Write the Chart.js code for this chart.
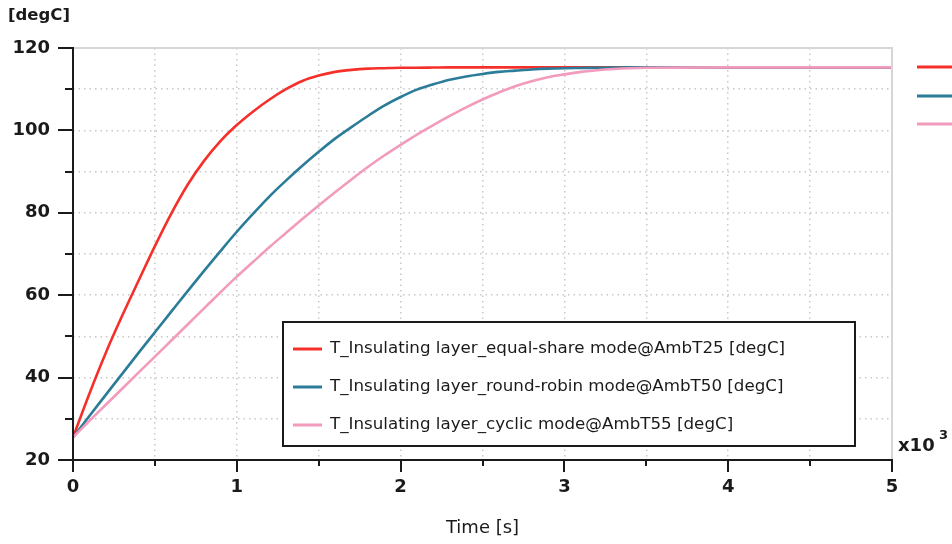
<!DOCTYPE html>
<html>
<head>
<meta charset="utf-8">
<script src="https://cdn.jsdelivr.net/npm/chart.js@4/dist/chart.umd.min.js"></script>
<style>
  html, body { margin: 0; padding: 0; background: #ffffff; }
  #wrap { position: relative; width: 952px; height: 544px; }
</style>
</head>
<body>
<div id="wrap"><canvas id="c" width="952" height="544"></canvas></div>
<script>
// ---- data (time in seconds, temperature in degC) ----
const timeS = [0,100,200,300,400,500,600,700,800,900,1000,1100,1200,1300,1400,1500,1600,1700,1800,1900,2000,2100,2200,2300,2400,2500,2600,2700,2800,2900,3000,3100,3200,3300,3400,3500,4000,4500,5000];
const equalShare = [25.5,36.1,46.0,55.0,63.5,71.9,79.8,86.8,92.6,97.4,101.3,104.6,107.5,110.0,112.0,113.3,114.2,114.7,115.0,115.1,115.2,115.2,115.25,115.3,115.3,115.3,115.3,115.3,115.3,115.3,115.3,115.3,115.3,115.3,115.3,115.3,115.3,115.3,115.3];
const roundRobin = [25.5,30.7,35.8,40.9,46.0,51.0,56.0,61.0,65.9,70.7,75.4,79.8,84.0,87.8,91.4,94.8,98.0,100.8,103.5,106.0,108.1,109.9,111.2,112.3,113.1,113.7,114.2,114.5,114.8,115.0,115.1,115.15,115.2,115.25,115.3,115.3,115.3,115.3,115.3];
const cyclic = [25.5,29.5,33.4,37.3,41.2,45.1,49.0,52.9,56.8,60.7,64.5,68.1,71.7,75.1,78.5,81.8,85.0,88.1,91.1,93.9,96.5,99.0,101.3,103.5,105.6,107.5,109.2,110.7,111.9,112.9,113.6,114.2,114.6,114.9,115.1,115.2,115.3,115.3,115.3];
const seriesLabels = [
  "T_Insulating layer_equal-share mode@AmbT25 [degC]",
  "T_Insulating layer_round-robin mode@AmbT50 [degC]",
  "T_Insulating layer_cyclic mode@AmbT55 [degC]"
];
const seriesColors = ["#f5302a", "#2b7c98", "#f29bbd"];
const yUnit = "[degC]";
const xTitle = "Time [s]";
const xMultiplier = "x10";
const xMultiplierExp = "3";

const toPts = (vals) => vals.map((v, i) => ({ x: timeS[i], y: v }));

const FONT = "'DejaVu Sans', sans-serif";

const decor = {
  id: 'decor',
  afterDraw(chart) {
    const ctx = chart.ctx;
    const a = chart.chartArea;
    const xs = chart.scales.x, ys = chart.scales.y;
    ctx.save();
    // top & right light border
    ctx.strokeStyle = '#d6d6d6';
    ctx.lineWidth = 2;
    ctx.beginPath();
    ctx.moveTo(a.left, a.top); ctx.lineTo(a.right, a.top); ctx.lineTo(a.right, a.bottom);
    ctx.stroke();
    // axes
    ctx.strokeStyle = '#1a1a1a';
    ctx.lineWidth = 2;
    ctx.beginPath();
    ctx.moveTo(a.left, a.top - 1); ctx.lineTo(a.left, a.bottom);
    ctx.lineTo(a.right + 1, a.bottom);
    ctx.stroke();
    // ticks
    ctx.beginPath();
    for (let v = 20; v <= 120; v += 10) {
      const y = Math.round(ys.getPixelForValue(v));
      const len = (v % 20 === 0) ? 15 : 8;
      ctx.moveTo(a.left - len, y); ctx.lineTo(a.left, y);
    }
    for (let v = 0; v <= 5000; v += 500) {
      const x = Math.round(xs.getPixelForValue(v));
      const len = (v % 1000 === 0) ? 12 : 6;
      ctx.moveTo(x, a.bottom); ctx.lineTo(x, a.bottom + len);
    }
    ctx.stroke();

    ctx.fillStyle = '#1a1a1a';
    ctx.textAlign = 'left';
    ctx.textBaseline = 'middle';
    // y unit
    ctx.font = "bold 16.5px " + FONT;
    ctx.fillText(yUnit, 8, 16);
    // x multiplier
    ctx.font = "bold 18px " + FONT;
    ctx.fillText(xMultiplier, 898, 446);
    ctx.font = "bold 13px " + FONT;
    ctx.fillText(xMultiplierExp, 939, 436);
    // x title
    ctx.font = "18px " + FONT;
    ctx.textAlign = 'center';
    ctx.fillText(xTitle, (a.left + a.right) / 2, 528);

    // inner legend box
    const bx = 283, by = 322, bw = 572, bh = 124;
    ctx.fillStyle = '#ffffff';
    ctx.fillRect(bx, by, bw, bh);
    ctx.strokeStyle = '#1a1a1a';
    ctx.lineWidth = 2;
    ctx.strokeRect(bx, by, bw, bh);
    ctx.font = "16.7px " + FONT;
    ctx.textAlign = 'left';
    ctx.textBaseline = 'middle';
    const rows = [349, 387, 425];
    for (let i = 0; i < 3; i++) {
      ctx.strokeStyle = seriesColors[i];
      ctx.lineWidth = 3;
      ctx.beginPath();
      ctx.moveTo(293, rows[i]); ctx.lineTo(322, rows[i]);
      ctx.stroke();
      ctx.fillStyle = '#1a1a1a';
      ctx.fillText(seriesLabels[i], 330, rows[i]);
    }
    // truncated outer legend swatches at right edge
    const rrows = [67, 96, 124];
    for (let i = 0; i < 3; i++) {
      ctx.strokeStyle = seriesColors[i];
      ctx.lineWidth = 3;
      ctx.beginPath();
      ctx.moveTo(917, rrows[i]); ctx.lineTo(952, rrows[i]);
      ctx.stroke();
    }
    ctx.restore();
  }
};

new Chart(document.getElementById('c'), {
  type: 'line',
  data: {
    datasets: [
      { label: seriesLabels[0], data: toPts(equalShare), borderColor: seriesColors[0], order: 2 },
      { label: seriesLabels[1], data: toPts(roundRobin), borderColor: seriesColors[1], order: 1 },
      { label: seriesLabels[2], data: toPts(cyclic), borderColor: seriesColors[2], order: 0 }
    ].map(d => Object.assign(d, { borderWidth: 2.6, pointRadius: 0, fill: false, cubicInterpolationMode: 'monotone' }))
  },
  options: {
    responsive: false,
    animation: false,
    events: [],
    layout: { padding: { top: 48, right: 60, left: 0, bottom: 0 } },
    plugins: { legend: { display: false }, tooltip: { enabled: false }, title: { display: false } },
    scales: {
      x: {
        type: 'linear', min: 0, max: 5000,
        afterFit: (s) => { s.height = 84; },
        border: { display: false, dash: [1.5, 4] },
        grid: { color: '#c8c8c8', lineWidth: 1.5, drawTicks: false },
        ticks: {
          stepSize: 500, autoSkip: false, maxRotation: 0, padding: 17,
          color: '#1a1a1a', font: { family: FONT, weight: 'bold', size: 18 },
          callback: (v) => (v % 1000 === 0 ? String(v / 1000) : '')
        }
      },
      y: {
        min: 20, max: 120,
        afterFit: (s) => { s.width = 73; },
        border: { display: false, dash: [1.5, 4] },
        grid: { color: '#c8c8c8', lineWidth: 1.5, drawTicks: false },
        ticks: {
          stepSize: 10, autoSkip: false, padding: 23,
          color: '#1a1a1a', font: { family: FONT, weight: 'bold', size: 18 },
          callback: (v) => (v % 20 === 0 ? String(v) : '')
        }
      }
    }
  },
  plugins: [decor]
});
</script>
</body>
</html>
